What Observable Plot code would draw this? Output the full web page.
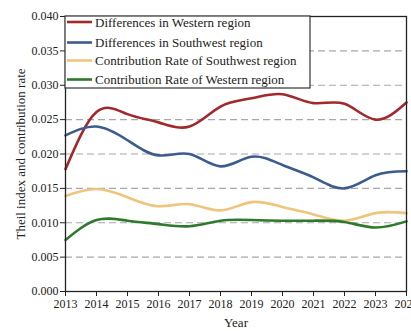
<!DOCTYPE html>
<html>
<head>
<meta charset="utf-8">
<script src="https://cdn.jsdelivr.net/npm/d3@7"></script>
<script src="https://cdn.jsdelivr.net/npm/@observablehq/plot@0.6"></script>
<style>
  html, body { margin: 0; padding: 0; background: #fff; overflow: hidden; }
  #chart svg, #chart svg text { font-family: "Liberation Serif", "DejaVu Serif", serif !important; }
</style>
</head>
<body>
<div id="chart"></div>
<script>
// Theil index of regional differences and contribution rates, 2013–2024
const years = [2013, 2014, 2015, 2016, 2017, 2018, 2019, 2020, 2021, 2022, 2023, 2024];
const westernDiff    = [0.0178, 0.0261, 0.0258, 0.0246, 0.0240, 0.0269, 0.0281, 0.0287, 0.0274, 0.0273, 0.0250, 0.0275];
const southwestDiff  = [0.0227, 0.0240, 0.0220, 0.0198, 0.0200, 0.0182, 0.0196, 0.0184, 0.0166, 0.0150, 0.0169, 0.0175];
const southwestContr = [0.0139, 0.0149, 0.0137, 0.0124, 0.0127, 0.0118, 0.0130, 0.0123, 0.0112, 0.0103, 0.0114, 0.0114];
const westernContr   = [0.0075, 0.0104, 0.0103, 0.0098, 0.0095, 0.0103, 0.0104, 0.0103, 0.0103, 0.0101, 0.0093, 0.0102];

const seriesNames = [
  "Differences in Western region",
  "Differences in Southwest region",
  "Contribution Rate of Southwest region",
  "Contribution Rate of Western region"
];
const seriesValues = [westernDiff, southwestDiff, southwestContr, westernContr];
const seriesColors = ["#a2292b", "#3b5c8d", "#efc47c", "#2e7a2d"];

const yTicks = [0, 0.005, 0.01, 0.015, 0.02, 0.025, 0.03, 0.035, 0.04];
const gridTicks = [0.005, 0.01, 0.015, 0.02, 0.025, 0.03, 0.035];

const rows = seriesNames.flatMap((name, i) =>
  years.map((year, j) => ({ series: name, year, value: seriesValues[i][j] }))
);

const chart = Plot.plot({
  width: 411,
  height: 331,
  marginLeft: 65,
  marginRight: 5,
  marginTop: 16,
  marginBottom: 40,
  style: { fontSize: "12px", color: "#222", background: "#fff" },
  x: { domain: [2013, 2024] },
  y: { domain: [0, 0.04] },
  color: { domain: seriesNames, range: seriesColors },
  marks: [
    Plot.ruleY(gridTicks, { stroke: "#a8a8a8", strokeDasharray: "7,4", strokeWidth: 1.2 }),
    Plot.line(rows, {
      x: "year", y: "value", z: "series", stroke: "series",
      curve: "natural", strokeWidth: 2.6
    }),
    Plot.frame({ stroke: "#222", strokeWidth: 1.3 }),
    Plot.axisX({
      ticks: years, tickFormat: "d", tickSize: 5, tickPadding: 3,
      label: null, stroke: "#222", fill: "#222", fontSize: 12
    }),
    Plot.axisY({
      ticks: yTicks, tickFormat: ".3f", tickSize: 5, tickPadding: 2,
      label: null, stroke: "#222", fill: "#222", fontSize: 12
    }),
    Plot.text(["Year"], { frameAnchor: "bottom", dy: 35, fontSize: 13, fill: "#222" }),
    Plot.text(["Theil index and contribution rate"], {
      frameAnchor: "left", textAnchor: "middle", dx: -45, rotate: -90,
      fontSize: 13, fill: "#222"
    })
  ]
});

document.getElementById("chart").appendChild(chart);

// Legend box in the upper-left corner of the frame
const xScale = chart.scale("x"), yScale = chart.scale("y");
const boxLeft = xScale.range[0], boxTop = yScale.range[1];
const legend = d3.select(chart).append("g")
  .attr("font-size", 13)
  .attr("text-anchor", "start")
  .attr("fill", "#222");
legend.append("rect")
  .attr("x", boxLeft).attr("y", boxTop)
  .attr("width", 245).attr("height", 72)
  .attr("fill", "#fff").attr("stroke", "#333").attr("stroke-width", 1.2);
const rowY = [22, 42.5, 60.5, 79.5];
seriesNames.forEach((name, i) => {
  const y = rowY[i];
  legend.append("line")
    .attr("x1", boxLeft + 2).attr("x2", boxLeft + 27)
    .attr("y1", y).attr("y2", y)
    .attr("stroke", seriesColors[i]).attr("stroke-width", 2.6);
  legend.append("text")
    .attr("x", boxLeft + 30).attr("y", y)
    .attr("dy", "0.35em")
    .text(name);
});
</script>
</body>
</html>
